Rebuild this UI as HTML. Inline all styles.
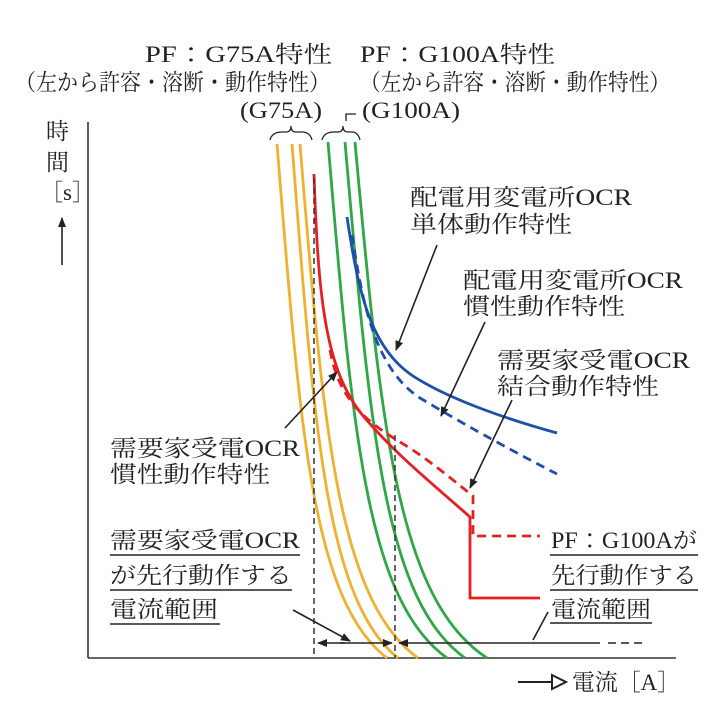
<!DOCTYPE html>
<html><head><meta charset="utf-8"><style>
html,body{margin:0;padding:0;background:#fff}
svg{display:block}
text{font-family:"Liberation Serif","Noto Serif CJK JP","Noto Serif CJK SC",serif;fill:#222;font-size:23px}
</style></head><body>
<svg width="724" height="707" viewBox="0 0 724 707" xmlns="http://www.w3.org/2000/svg">
<defs>
<marker id="ah" markerWidth="10" markerHeight="8" refX="9" refY="4" orient="auto" markerUnits="userSpaceOnUse">
<path d="M0,0 L10,4 L0,8 Z" fill="#222"/></marker>
</defs>
<text x="145" y="62" textLength="187" lengthAdjust="spacingAndGlyphs">PF：G75A特性</text>
<text x="15" y="90" textLength="315" lengthAdjust="spacingAndGlyphs">（左から許容・溶断・動作特性）</text>
<text x="360" y="62" textLength="195" lengthAdjust="spacingAndGlyphs">PF：G100A特性</text>
<text x="360" y="90" textLength="310" lengthAdjust="spacingAndGlyphs">（左から許容・溶断・動作特性）</text>
<text x="240" y="118" textLength="82" lengthAdjust="spacingAndGlyphs">(G75A)</text>
<text x="362" y="118" textLength="98" lengthAdjust="spacingAndGlyphs">(G100A)</text>
<path d="M346,121 V114 H356" fill="none" stroke="#222" stroke-width="1.3"/>
<path d="M270,140 Q272,132 282,132 L286,132 Q291,132 291,126 Q291,132 296,132 L302,132 Q310,132 312,140" fill="none" stroke="#222" stroke-width="1.3"/>
<path d="M322,140 Q324,132 334,132 L338,132 Q343,132 343,126 Q343,132 348,132 L352,132 Q358,132 360,140" fill="none" stroke="#222" stroke-width="1.3"/>
<text x="46" y="139">時</text>
<text x="46" y="170">間</text>
<text x="40" y="200" font-size="22">［s］</text>
<line x1="62" y1="265" x2="62" y2="218" stroke="#222" stroke-width="1.6" marker-end="url(#ah)"/>
<line x1="88" y1="122" x2="88" y2="658" stroke="#333" stroke-width="1.6"/>
<line x1="88" y1="658" x2="676" y2="658" stroke="#333" stroke-width="1.6"/>
<line x1="518" y1="682" x2="552" y2="682" stroke="#222" stroke-width="2"/>
<path d="M552,675 L566,682 L552,689 Z" fill="#fff" stroke="#222" stroke-width="2"/>
<text x="572" y="690" textLength="108" lengthAdjust="spacingAndGlyphs">電流［A］</text>
<g fill="none" stroke="#f0b030" stroke-width="2.8">
<path d="M277,144 C300,430 312,600 387,658"/>
<path d="M292,144 C314,430 326,600 398,658"/>
<path d="M300,144 C323,430 338,600 418,658"/>
</g>
<g fill="none" stroke="#2ea845" stroke-width="2.8">
<path d="M328,142 C352,430 366,600 447,658"/>
<path d="M345,142 C370,430 384,600 465,658"/>
<path d="M355,142 C381,430 398,600 487,658"/>
</g>
<path d="M347,217 C358,290 370,348 413,376 C450,400 510,420 557,433" fill="none" stroke="#1f4fa8" stroke-width="2.8"/>
<path d="M352,235 C362,300 374,368 420,398 C470,428 520,455 557,474" fill="none" stroke="#1f4fa8" stroke-width="2.8" stroke-dasharray="9,6"/>
<path d="M314,174 C318,290 324,365 360,412 C392,452 440,490 470,517 V598 H540" fill="none" stroke="#e62020" stroke-width="2.8"/>
<path d="M330,350 C338,395 360,418 400,442 C430,460 455,482 473,496 V536 H540" fill="none" stroke="#e62020" stroke-width="2.8" stroke-dasharray="9,6"/>
<line x1="314" y1="178" x2="314" y2="658" stroke="#333" stroke-width="1.5" stroke-dasharray="6,4"/>
<line x1="395" y1="435" x2="395" y2="658" stroke="#333" stroke-width="1.5" stroke-dasharray="6,4"/>
<line x1="345" y1="643" x2="318" y2="643" stroke="#222" stroke-width="1.6" marker-end="url(#ah)"/>
<line x1="340" y1="643" x2="392" y2="643" stroke="#222" stroke-width="1.6" marker-end="url(#ah)"/>
<line x1="600" y1="643" x2="399" y2="643" stroke="#222" stroke-width="1.6" marker-end="url(#ah)"/>
<line x1="608" y1="643" x2="642" y2="643" stroke="#222" stroke-width="1.6" stroke-dasharray="8,5"/>
<g stroke="#222" stroke-width="1.6" fill="none">
<line x1="437" y1="245" x2="396" y2="350" marker-end="url(#ah)"/>
<line x1="485" y1="322" x2="441" y2="416" marker-end="url(#ah)"/>
<line x1="512" y1="400" x2="470" y2="488" marker-end="url(#ah)"/>
<line x1="285" y1="428" x2="337" y2="372" marker-end="url(#ah)"/>
<line x1="293" y1="610" x2="350" y2="641" marker-end="url(#ah)"/>
<line x1="548" y1="612" x2="533" y2="640"/>
</g>
<text x="410" y="205" textLength="222" lengthAdjust="spacingAndGlyphs">配電用変電所OCR</text>
<text x="410" y="232" textLength="162" lengthAdjust="spacingAndGlyphs">単体動作特性</text>
<text x="463" y="288" textLength="220" lengthAdjust="spacingAndGlyphs">配電用変電所OCR</text>
<text x="463" y="314" textLength="162" lengthAdjust="spacingAndGlyphs">慣性動作特性</text>
<text x="497" y="368" textLength="193" lengthAdjust="spacingAndGlyphs">需要家受電OCR</text>
<text x="497" y="394" textLength="162" lengthAdjust="spacingAndGlyphs">結合動作特性</text>
<text x="110" y="456" textLength="190" lengthAdjust="spacingAndGlyphs">需要家受電OCR</text>
<text x="110" y="482" textLength="160" lengthAdjust="spacingAndGlyphs">慣性動作特性</text>
<text x="110" y="548" textLength="190" lengthAdjust="spacingAndGlyphs">需要家受電OCR</text>
<text x="110" y="583" textLength="182" lengthAdjust="spacingAndGlyphs">が先行動作する</text>
<text x="110" y="617" textLength="108" lengthAdjust="spacingAndGlyphs">電流範囲</text>
<g stroke="#222" stroke-width="1.4">
<line x1="110" y1="555" x2="300" y2="555"/>
<line x1="110" y1="590" x2="292" y2="590"/>
<line x1="110" y1="624" x2="220" y2="624"/>
<line x1="550" y1="555" x2="698" y2="555"/>
<line x1="550" y1="590" x2="698" y2="590"/>
<line x1="550" y1="623" x2="652" y2="623"/>
</g>
<text x="551" y="548" textLength="146" lengthAdjust="spacingAndGlyphs">PF：G100Aが</text>
<text x="551" y="583" textLength="146" lengthAdjust="spacingAndGlyphs">先行動作する</text>
<text x="551" y="617" textLength="100" lengthAdjust="spacingAndGlyphs">電流範囲</text>
</svg>
</body></html>
